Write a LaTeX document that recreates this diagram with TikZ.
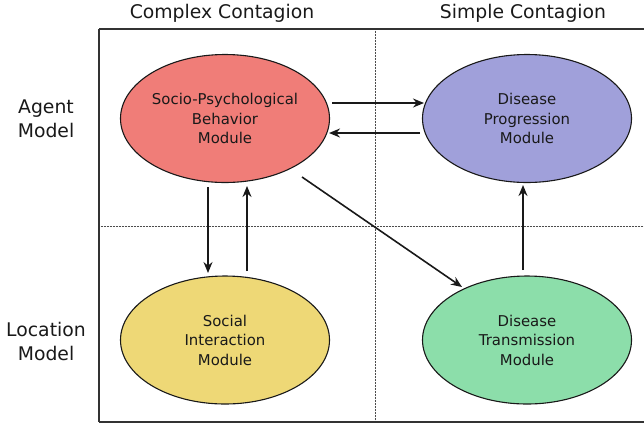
\documentclass[tikz,border=0pt]{standalone}
\usepackage{fontspec}
\setmainfont{DejaVu Sans}
\usetikzlibrary{shapes.geometric,arrows.meta}
\definecolor{redfill}{RGB}{240,125,120}
\definecolor{bluefill}{RGB}{160,160,218}
\definecolor{yellowfill}{RGB}{238,216,118}
\definecolor{greenfill}{RGB}{140,222,170}
\definecolor{ink}{RGB}{25,25,25}
\tikzset{
  module/.style={ellipse, draw=ink, line width=1.1pt, minimum width=209pt, minimum height=128pt, inner sep=0pt, align=center, font=\fontsize{14.9}{19.5}\selectfont, text=ink},
  arr/.style={-{Stealth[length=11pt,width=9pt]}, line width=1.6pt, draw=ink},
  hdr/.style={font=\fontsize{18.8}{24}\selectfont, align=center, text=ink},
  grid/.style={densely dotted, line width=0.5pt, draw=black!70}
}
\begin{document}
\begin{tikzpicture}[x=1pt,y=-1pt]
\useasboundingbox (0,0) rectangle (644,424);
\begin{scope}
\clip (0,0) rectangle (644,424);
\draw[grid] (375,29) -- (375,422);
\draw[grid] (99,226) -- (660,226);
\draw[line width=1.4pt, draw=black!80] (99,29) -- (660,29);
\draw[line width=1.4pt, draw=black!80] (99,422) -- (660,422);
\draw[line width=1.4pt, draw=black!80] (99,29) -- (99,422);
\end{scope}
\node[hdr] (cc) at (222,13) {Complex Contagion};
\node[hdr] (sc) at (523,13) {Simple Contagion};
\node[hdr] (am) at (46,119) {Agent\\Model};
\node[hdr] (lm) at (46,341) {Location\\Model};
\node[module, fill=redfill] (spb) at (225,118.5) {Socio-Psychological\\Behavior\\Module};
\node[module, fill=bluefill] (dpm) at (527,118.5) {Disease\\Progression\\Module};
\node[module, fill=yellowfill] (sim) at (225,340) {Social\\Interaction\\Module};
\node[module, fill=greenfill] (dtm) at (527,340) {Disease\\Transmission\\Module};
\coordinate (a1s) at (332,103); \coordinate (a1e) at (424,103);
\draw[arr] (a1s) -- (a1e);
\coordinate (a2s) at (420,133); \coordinate (a2e) at (329,133);
\draw[arr] (a2s) -- (a2e);
\coordinate (a3s) at (208,187); \coordinate (a3e) at (208,273);
\draw[arr] (a3s) -- (a3e);
\coordinate (a4s) at (247,271); \coordinate (a4e) at (247,186);
\draw[arr] (a4s) -- (a4e);
\coordinate (a5s) at (302,177); \coordinate (a5e) at (462,287);
\draw[arr] (a5s) -- (a5e);
\coordinate (a6s) at (523,270); \coordinate (a6e) at (523,185);
\draw[arr] (a6s) -- (a6e);
\end{tikzpicture}
\end{document}
